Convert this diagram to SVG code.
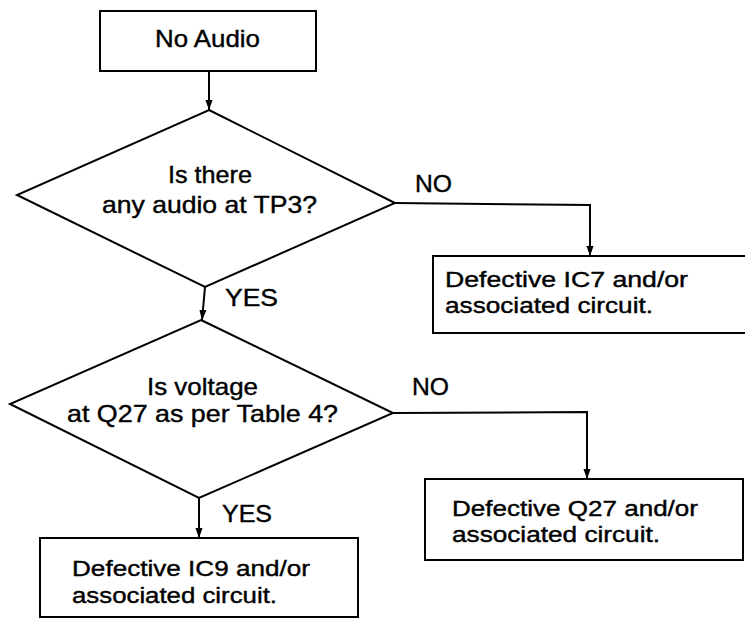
<svg xmlns="http://www.w3.org/2000/svg" width="745" height="624" viewBox="0 0 745 624">
<style>
.shape{fill:#fff;stroke:#000;stroke-width:2}
.conn{fill:none;stroke:#000;stroke-width:2}
text{font-family:"Liberation Sans",Arial,Helvetica,sans-serif;font-size:24px;fill:#000;stroke:#000;stroke-width:0.4}
.b{font-size:22px}
</style>
<defs>
<marker id="arr" markerUnits="userSpaceOnUse" markerWidth="10" markerHeight="15" refX="14" refY="5" orient="auto" viewBox="0 0 14 10">
<path d="M0,0 L14,5 L0,10 Z" fill="#000"/>
</marker>
</defs>
<rect width="745" height="624" fill="#fff"/>
<g id="connectors">
<path class="conn" d="M209,71 L209,110" marker-end="url(#arr)"/>
<path class="conn" d="M205,287 L202,320" marker-end="url(#arr)"/>
<path class="conn" d="M395,203 L590,205 L590,256" marker-end="url(#arr)"/>
<path class="conn" d="M199,498 L199,538" marker-end="url(#arr)"/>
<path class="conn" d="M393,413 L587,412 L587,479" marker-end="url(#arr)"/>
</g>
<g id="labels">
<text x="225" y="306" textLength="53" lengthAdjust="spacingAndGlyphs">YES</text>
<text x="415" y="192" textLength="37" lengthAdjust="spacingAndGlyphs">NO</text>
<text x="222" y="522" textLength="50" lengthAdjust="spacingAndGlyphs">YES</text>
<text x="412" y="395" textLength="37" lengthAdjust="spacingAndGlyphs">NO</text>
</g>
<g id="start">
<rect class="shape" x="100" y="11" width="216" height="60"/>
<text x="155" y="47" textLength="105" lengthAdjust="spacingAndGlyphs">No Audio</text>
</g>
<g id="decision1">
<polygon class="shape" points="209,110 395,203 205,287 17,195"/>
<text x="168" y="183" textLength="84" lengthAdjust="spacingAndGlyphs">Is there</text>
<text x="102" y="213" textLength="215" lengthAdjust="spacingAndGlyphs">any audio at TP3?</text>
</g>
<g id="ic7">
<rect class="shape" x="433" y="256" width="320" height="77"/>
<text class="b" x="445" y="287" textLength="243" lengthAdjust="spacingAndGlyphs">Defective IC7 and/or</text>
<text class="b" x="445" y="313" textLength="208" lengthAdjust="spacingAndGlyphs">associated circuit.</text>
</g>
<g id="decision2">
<polygon class="shape" points="201,320 393,413 199,498 10,404"/>
<text x="147" y="395" textLength="111" lengthAdjust="spacingAndGlyphs">Is voltage</text>
<text x="67" y="422" textLength="271" lengthAdjust="spacingAndGlyphs">at Q27 as per Table 4?</text>
</g>
<g id="q27">
<rect class="shape" x="425" y="479" width="318" height="81"/>
<text class="b" x="452" y="516" textLength="246" lengthAdjust="spacingAndGlyphs">Defective Q27 and/or</text>
<text class="b" x="452" y="542" textLength="208" lengthAdjust="spacingAndGlyphs">associated circuit.</text>
</g>
<g id="ic9">
<rect class="shape" x="40" y="538" width="318" height="79"/>
<text class="b" x="72" y="576" textLength="238" lengthAdjust="spacingAndGlyphs">Defective IC9 and/or</text>
<text class="b" x="72" y="603" textLength="205" lengthAdjust="spacingAndGlyphs">associated circuit.</text>
</g>
</svg>
